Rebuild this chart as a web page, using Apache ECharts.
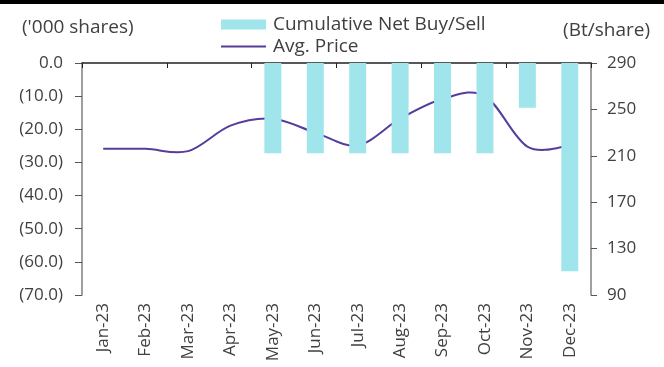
<!DOCTYPE html>
<html>
<head>
<meta charset="utf-8">
<script src="https://cdn.jsdelivr.net/npm/echarts@6/dist/echarts.min.js"></script>
<style>
  html, body { margin: 0; padding: 0; background: #fff; }
  #chart { width: 664px; height: 367px; }
</style>
</head>
<body>
<div id="chart"></div>
<script>
// Monthly categories
const months = ['Jan-23', 'Feb-23', 'Mar-23', 'Apr-23', 'May-23', 'Jun-23',
                'Jul-23', 'Aug-23', 'Sep-23', 'Oct-23', 'Nov-23', 'Dec-23'];
// Cumulative net buy/sell ('000 shares), negative = net sell
const netBuySell = [null, null, null, null, -27.2, -27.2, -27.2, -27.2, -27.2, -27.2, -13.5, -62.8];
// Average price (Bt/share)
const avgPrice = [216, 216, 214, 236, 242, 230, 219, 242, 259, 261.5, 218, 219];

const TEXT = '#404040';
const FONT = 'Open Sans';
const LINE_COLOR = '#563D9C';

// Catmull-Rom style cubic path through pixel points (control points at 1/6 of the neighbour span)
function smoothPath(pts) {
  let d = 'M' + pts[0][0] + ',' + pts[0][1];
  for (let i = 0; i < pts.length - 1; i++) {
    const p0 = pts[Math.max(i - 1, 0)];
    const p1 = pts[i];
    const p2 = pts[i + 1];
    const p3 = pts[Math.min(i + 2, pts.length - 1)];
    const c1x = p1[0] + (p2[0] - p0[0]) / 6;
    const c1y = p1[1] + (p2[1] - p0[1]) / 6;
    const c2x = p2[0] - (p3[0] - p1[0]) / 6;
    const c2y = p2[1] - (p3[1] - p1[1]) / 6;
    d += ' C' + c1x + ',' + c1y + ' ' + c2x + ',' + c2y + ' ' + p2[0] + ',' + p2[1];
  }
  return d;
}

const chart = echarts.init(document.getElementById('chart'));

chart.setOption({
  animation: false,
  textStyle: { fontFamily: FONT, color: TEXT },
  grid: { left: 82, right: 73, top: 63, bottom: 72 },
  legend: {
    orient: 'vertical',
    left: 216,
    top: 10,
    itemWidth: 45,
    itemHeight: 10,
    itemGap: 3,
    textStyle: { fontFamily: FONT, fontSize: 19, color: TEXT, lineHeight: 18, padding: [0, 0, 0, 2] },
    data: [
      { name: 'Cumulative Net Buy/Sell', icon: 'rect' },
      // plain stroke icon, no point marker
      { name: 'Avg. Price', icon: 'path://M0,0M0,10M0,4.1L45,4.1L45,5.9L0,5.9Z', itemStyle: { color: LINE_COLOR } }
    ]
  },
  graphic: [
    { type: 'rect', shape: { x: 0, y: 0, width: 664, height: 4 }, style: { fill: '#000' } },
    { type: 'text', left: 22, top: 18, style: { text: "('000 shares)", fontFamily: FONT, fontSize: 19, fill: TEXT } },
    { type: 'text', right: 14, top: 21, style: { text: '(Bt/share)', fontFamily: FONT, fontSize: 19, fill: TEXT } }
  ],
  xAxis: [
    {
      type: 'category',
      data: months,
      position: 'top',
      boundaryGap: true,
      axisLine: { show: true, lineStyle: { color: '#222', width: 1.5 } },
      axisTick: { show: true, inside: true, length: 5, lineStyle: { color: '#222' } },
      axisLabel: { show: false }
    },
    {
      type: 'category',
      data: months,
      position: 'bottom',
      boundaryGap: true,
      axisLine: { show: false },
      axisTick: { show: false },
      axisLabel: { rotate: 90, margin: 8, fontSize: 17, color: TEXT, fontFamily: FONT }
    }
  ],
  yAxis: [
    {
      type: 'value',
      min: -70,
      max: 0,
      interval: 10,
      position: 'left',
      splitLine: { show: false },
      axisLine: { show: true, lineStyle: { color: '#7f7f7f', width: 1.5 } },
      axisTick: { show: true, length: 7, lineStyle: { color: '#555' } },
      axisLabel: {
        margin: 19,
        fontSize: 17,
        color: TEXT,
        fontFamily: FONT,
        formatter: v => v === 0 ? '0.0' : '(' + Math.abs(v).toFixed(1) + ')'
      }
    },
    {
      type: 'value',
      min: 90,
      max: 290,
      interval: 40,
      position: 'right',
      splitLine: { show: false },
      axisLine: { show: true, lineStyle: { color: '#7f7f7f', width: 1.5 } },
      axisTick: { show: true, length: 6, lineStyle: { color: '#555' } },
      axisLabel: { margin: 16, fontSize: 17, color: TEXT, fontFamily: FONT }
    }
  ],
  series: [
    {
      name: 'Cumulative Net Buy/Sell',
      type: 'bar',
      xAxisIndex: 0,
      yAxisIndex: 0,
      data: netBuySell,
      barWidth: '40%',
      itemStyle: { color: '#A0E4EC' }
    },
    {
      // price curve drawn as one smoothed path through the axis-mapped points
      name: 'Avg. Price',
      type: 'custom',
      coordinateSystem: 'cartesian2d',
      xAxisIndex: 0,
      yAxisIndex: 1,
      itemStyle: { color: LINE_COLOR },
      encode: { x: 0, y: 1 },
      data: avgPrice.map((v, i) => [i, v]),
      renderItem: (params, api) => {
        if (params.dataIndex !== 0) return { type: 'group', children: [] };
        const pts = avgPrice.map((v, i) => api.coord([i, v]));
        return {
          type: 'path',
          shape: { pathData: smoothPath(pts) },
          style: { fill: 'none', stroke: LINE_COLOR, lineWidth: 2 }
        };
      }
    }
  ]
});
</script>
</body>
</html>
